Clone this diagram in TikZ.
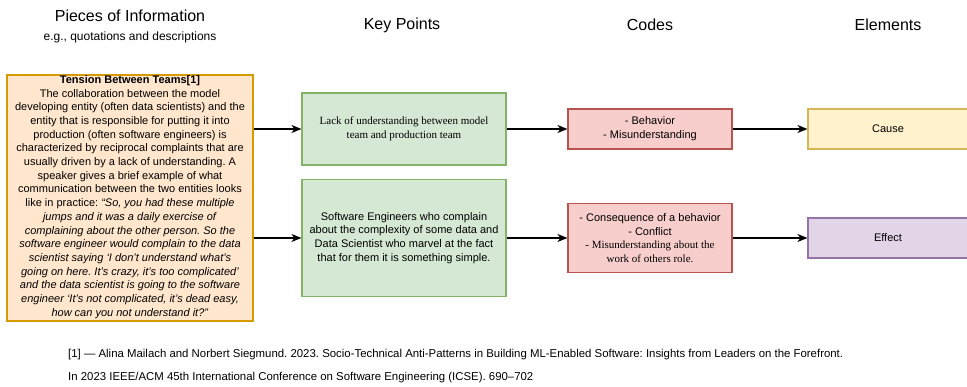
\documentclass[tikz,border=0pt]{standalone}
\usepackage{fontspec}
\setmainfont{Liberation Sans}
\newfontfamily\seriffont{Liberation Serif}
\usetikzlibrary{arrows.meta}
\frenchspacing
\definecolor{orangefill}{HTML}{FFE6CC}
\definecolor{orangeline}{HTML}{D79B00}
\definecolor{greenfill}{HTML}{D5E8D4}
\definecolor{greenline}{HTML}{82B366}
\definecolor{redfill}{HTML}{F8CECC}
\definecolor{redline}{HTML}{B85450}
\definecolor{yellowfill}{HTML}{FFF2CC}
\definecolor{yellowline}{HTML}{D6B656}
\definecolor{purplefill}{HTML}{E1D5E7}
\definecolor{purpleline}{HTML}{9673A6}
\tikzset{
  box/.style={draw, line width=1.1pt, inner sep=0pt, align=center,
    font=\fontsize{11}{13.7}\selectfont},
  header/.style={font=\fontsize{16}{19}\selectfont, inner sep=0pt},
  arr/.style={line width=1.3pt, -{Stealth[length=10pt,width=8pt,inset=3pt]}},
  note/.style={font=\fontsize{11.4}{13}\selectfont, anchor=west, inner sep=0pt}
}
\begin{document}
\begin{tikzpicture}[x=1pt,y=-1pt]
\useasboundingbox (0,0) rectangle (967,387);

% column headings
\node[header] (h1) at (130,16) {Pieces of Information};
\node[font=\fontsize{12}{14}\selectfont, inner sep=0pt] (h1b) at (130,37) {e.g., quotations and descriptions};
\node[header] (h2) at (402,25) {Key Points};
\node[header] (h3) at (650,25) {Codes};
\node[header] (h4) at (888,25) {Elements};

% piece of information
\node[box, fill=orangefill, draw=orangeline, minimum width=246pt, minimum height=246pt] (o) at (130,198) {};
\node[align=center, inner sep=0pt, font=\fontsize{11}{13.7}\selectfont] (otext) at (130,197) {%
\textbf{Tension Between Teams[1]}\\
The collaboration between the model\\
developing entity (often data scientists) and the\\
entity that is responsible for putting it into\\
production (often software engineers) is\\
characterized by reciprocal complaints that are\\
usually driven by a lack of understanding. A\\
speaker gives a brief example of what\\
communication between the two entities looks\\
like in practice: \textit{``So, you had these multiple}\\
\textit{jumps and it was a daily exercise of}\\
\textit{complaining about the other person. So the}\\
\textit{software engineer would complain to the data}\\
\textit{scientist saying `I don't understand what's}\\
\textit{going on here. It's crazy, it's too complicated'}\\
\textit{and the data scientist is going to the software}\\
\textit{engineer `It's not complicated, it's dead easy,}\\
\textit{how can you not understand it?''}};

% key points
\node[box, fill=greenfill, draw=greenline, minimum width=204pt, minimum height=72pt] (g1) at (404,129)
  {\seriffont Lack of understanding between model\\ \seriffont team and production team};
\node[box, fill=greenfill, draw=greenline, minimum width=204pt, minimum height=117pt] (g2) at (404,238)
  {Software Engineers who complain\\ about the complexity of some data and\\ Data Scientist who marvel at the fact\\ that for them it is something simple.};

% codes
\node[box, fill=redfill, draw=redline, minimum width=164pt, minimum height=69pt] (r2) at (650,238)
  {- Consequence of a behavior\\ - Conflict\\ \seriffont - Misunderstanding about the\\ \seriffont work of others role.};
\node[box, fill=redfill, draw=redline, minimum width=164pt, minimum height=40pt] (r1) at (650,129)
  {- Behavior\\ - Misunderstanding};

% elements
\node[box, fill=yellowfill, draw=yellowline, minimum width=160pt, minimum height=40pt] (c) at (888,129) {Cause};
\node[box, fill=purplefill, draw=purpleline, minimum width=160pt, minimum height=40pt] (e) at (888,238) {Effect};

% connectors
\draw[arr] (o.east |- g1.west) -- (g1.west);
\draw[arr] (o.east |- g2.west) -- (g2.west);
\draw[arr] (g1.east) -- (r1.west);
\draw[arr] (g2.east) -- (r2.west);
\draw[arr] (r1.east) -- (c.west);
\draw[arr] (r2.east) -- (e.west);

% reference
\node[note] (ref1) at (68,355) {[1] --- Alina Mailach and Norbert Siegmund. 2023. Socio-Technical Anti-Patterns in Building ML-Enabled Software: Insights from Leaders on the Forefront.};
\node[note] (ref2) at (68,378) {In 2023 IEEE/ACM 45th International Conference on Software Engineering (ICSE). 690--702};
\end{tikzpicture}
\end{document}
